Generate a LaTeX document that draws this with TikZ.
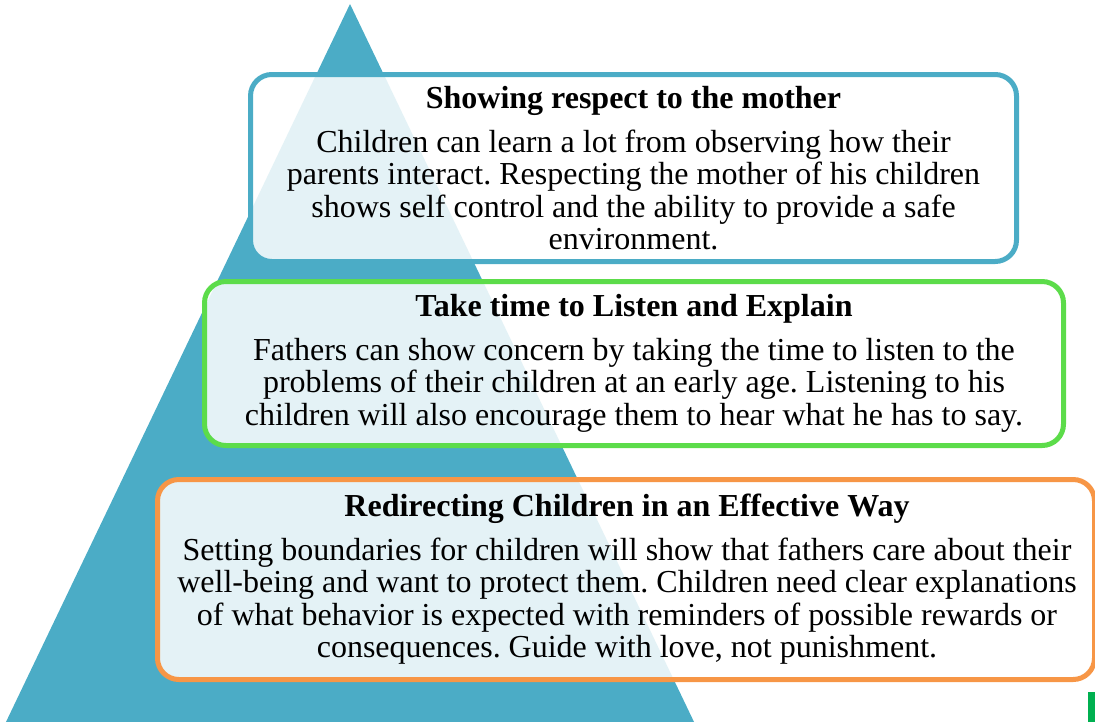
\documentclass[tikz,border=0pt]{standalone}
\usepackage{fontspec}
\setmainfont{Liberation Serif}
\usepackage{xcolor}
\definecolor{pyrblue}{HTML}{4BACC6}
\definecolor{listengreen}{HTML}{5CDC4A}
\definecolor{redirorange}{HTML}{F79646}
\definecolor{markgreen}{HTML}{00B050}
\newcommand{\layerhead}[1]{{\bfseries #1}}
\tikzset{
  layerbox/.style={line width=3.75pt, rounded corners=16pt, fill=white, fill opacity=0.85},
  layertext/.style={align=center, inner sep=0pt, text opacity=1,
    font=\fontsize{24}{24.4}\selectfont\frenchspacing},
}

\begin{document}
\begin{tikzpicture}[x=0.75pt,y=-0.75pt]
                \clip (0,0) rectangle (1095,721);

                % the pyramid behind the boxes
                \fill[pyrblue] (350,4) -- (695,724) -- (5,724) -- cycle;

                % top layer
                \draw[layerbox, draw=pyrblue] (250.5,74.5) rectangle (1016.5,261.5);
                % middle layer
                \draw[layerbox, draw=listengreen] (204.5,281.5) rectangle (1063.5,445.5);
                % bottom layer
                \draw[layerbox, draw=redirorange] (157.5,479.5) rectangle (1094.5,679.5);

                % texts of the layers
                \node[layertext] (respect) at (633.5,168) {\layerhead{Showing respect to the mother}\\[8.6pt]
                  Children can learn a lot from observing how their\\
                  parents interact. Respecting the mother of his children\\
                  shows self control and the ability to provide a safe\\
                  environment.};
                \node[layertext] (listen) at (634,363) {\layerhead{Take time to Listen and Explain}\\[8.6pt]
                  Fathers can show concern by taking the time to listen to the\\
                  problems of their children at an early age. Listening to his\\
                  children will also encourage them to hear what he has to say.};
                \node[layertext] (redirect) at (627,579) {\layerhead{Redirecting Children in an Effective Way}\\[8.6pt]
                  Setting boundaries for children will show that fathers care about their\\
                  well-being and want to protect them. Children need clear explanations\\
                  of what behavior is expected with reminders of possible rewards or\\
                  consequences. Guide with love, not punishment.};

                % corner mark
                \fill[markgreen] (1088,692) rectangle (1100,725);
\end{tikzpicture}
\end{document}
